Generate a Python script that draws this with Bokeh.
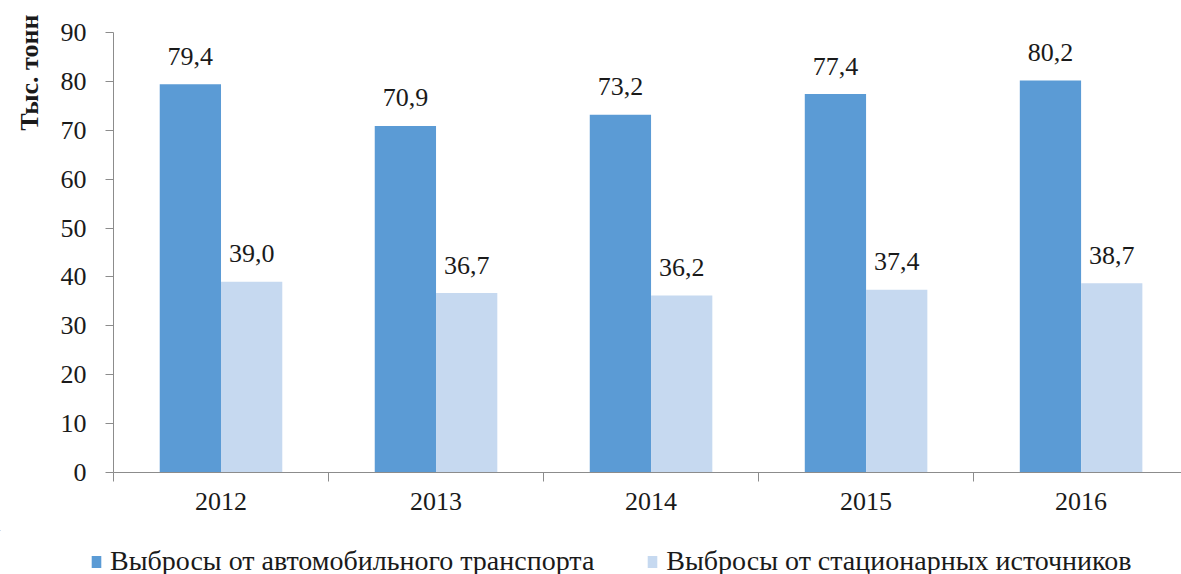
import numpy as np
from bokeh.plotting import figure
from bokeh.layouts import column
from bokeh.models import (Range1d, FixedTicker, Legend, LegendItem, Title, ColumnDataSource)
from bokeh.core.properties import value
from bokeh.embed import file_html
from bokeh.resources import INLINE

years = ["2012", "2013", "2014", "2015", "2016"]
transport = [79.4, 70.9, 73.2, 77.4, 80.2]
stationary = [39.0, 36.7, 36.2, 37.4, 38.7]
series_names = ["Выбросы от автомобильного транспорта", "Выбросы от стационарных источников"]
y_title = "Тыс. тонн"
y_ticks = [0, 10, 20, 30, 40, 50, 60, 70, 80, 90]

DARK = "#5B9BD5"
LIGHT = "#C6D9F0"
FONT = "Liberation Serif"
AXIS_COLOR = "#8C8C8C"
TXT = "#1a1a1a"

n = len(years)
centers = np.arange(n) + 0.5
bw = 0.285

W = 1181
H_MAIN = 530
H_LEG = 44

p = figure(width=W, height=H_MAIN, output_backend="svg", toolbar_location=None,
           x_range=Range1d(0, 4.967), y_range=Range1d(0, 90),
           min_border_left=110, min_border_right=0, min_border_top=32, min_border_bottom=58)
p.frame_align = False
p.outline_line_color = None
p.xgrid.visible = False
p.ygrid.visible = False

src1 = ColumnDataSource(dict(x=centers - bw / 2, top=transport,
                             lab=[f"{v:.1f}".replace(".", ",") for v in transport]))
src2 = ColumnDataSource(dict(x=centers + bw / 2, top=stationary,
                             lab=[f"{v:.1f}".replace(".", ",") for v in stationary]))

p.vbar(x="x", top="top", width=bw, bottom=0, source=src1, fill_color=DARK, line_color=None)
p.vbar(x="x", top="top", width=bw, bottom=0, source=src2, fill_color=LIGHT, line_color=None)

for src in (src1, src2):
    p.text(x="x", y="top", text="lab", source=src, text_align="center", text_baseline="alphabetic",
           y_offset=-28, text_font=value(FONT), text_font_size="26px", text_color=TXT)

# x axis
p.xaxis.ticker = FixedTicker(ticks=list(centers), minor_ticks=list(range(n + 1)))
p.xaxis.major_label_overrides = {float(c): y for c, y in zip(centers, years)}
p.xaxis.major_tick_out = 0
p.xaxis.major_tick_in = 0
p.xaxis.minor_tick_out = 9
p.xaxis.minor_tick_in = 0
p.xaxis.minor_tick_line_color = AXIS_COLOR
p.xaxis.axis_line_color = AXIS_COLOR
p.xaxis.major_label_text_font = FONT
p.xaxis.major_label_text_font_size = "26px"
p.xaxis.major_label_text_color = TXT
p.xaxis.major_label_standoff = 11

# y axis
p.yaxis.ticker = FixedTicker(ticks=y_ticks)
p.yaxis.major_tick_out = 8
p.yaxis.major_tick_in = 0
p.yaxis.minor_tick_out = 0
p.yaxis.minor_tick_in = 0
p.yaxis.major_tick_line_color = AXIS_COLOR
p.yaxis.axis_line_color = AXIS_COLOR
p.yaxis.major_label_text_font = FONT
p.yaxis.major_label_text_font_size = "26px"
p.yaxis.major_label_text_color = TXT
p.yaxis.major_label_standoff = 19

p.add_layout(Title(text=y_title, align="right", vertical_align="middle", offset=-18, standoff=26,
                   text_font=FONT, text_font_size="26px", text_font_style="bold",
                   text_color=TXT), "left")

# legend strip (series bars lie far outside its visible ranges; only the legend shows)
pl = figure(width=W, height=H_LEG, output_backend="svg", toolbar_location=None,
            x_range=Range1d(1000, 1001), y_range=Range1d(-1000, -999),
            min_border_left=0, min_border_right=0, min_border_top=0, min_border_bottom=0)
pl.frame_align = False
pl.axis.visible = False
pl.grid.visible = False
pl.outline_line_color = None
lr1 = pl.vbar(x="x", top="top", width=bw, bottom=0, source=src1, fill_color=DARK, line_color=None)
lr2 = pl.vbar(x="x", top="top", width=bw, bottom=0, source=src2, fill_color=LIGHT, line_color=None)
legend = Legend(items=[LegendItem(label=series_names[0], renderers=[lr1]),
                       LegendItem(label=series_names[1], renderers=[lr2])],
                orientation="horizontal", location=(90, -3),
                label_text_font=FONT, label_text_font_size="28px", label_text_color=TXT,
                glyph_width=12, glyph_height=15, label_standoff=8, spacing=52,
                border_line_color=None, background_fill_alpha=0, padding=0, margin=0)
pl.add_layout(legend)

layout = column(p, pl, spacing=0)
open("out.html", "w").write(file_html(layout, INLINE))
